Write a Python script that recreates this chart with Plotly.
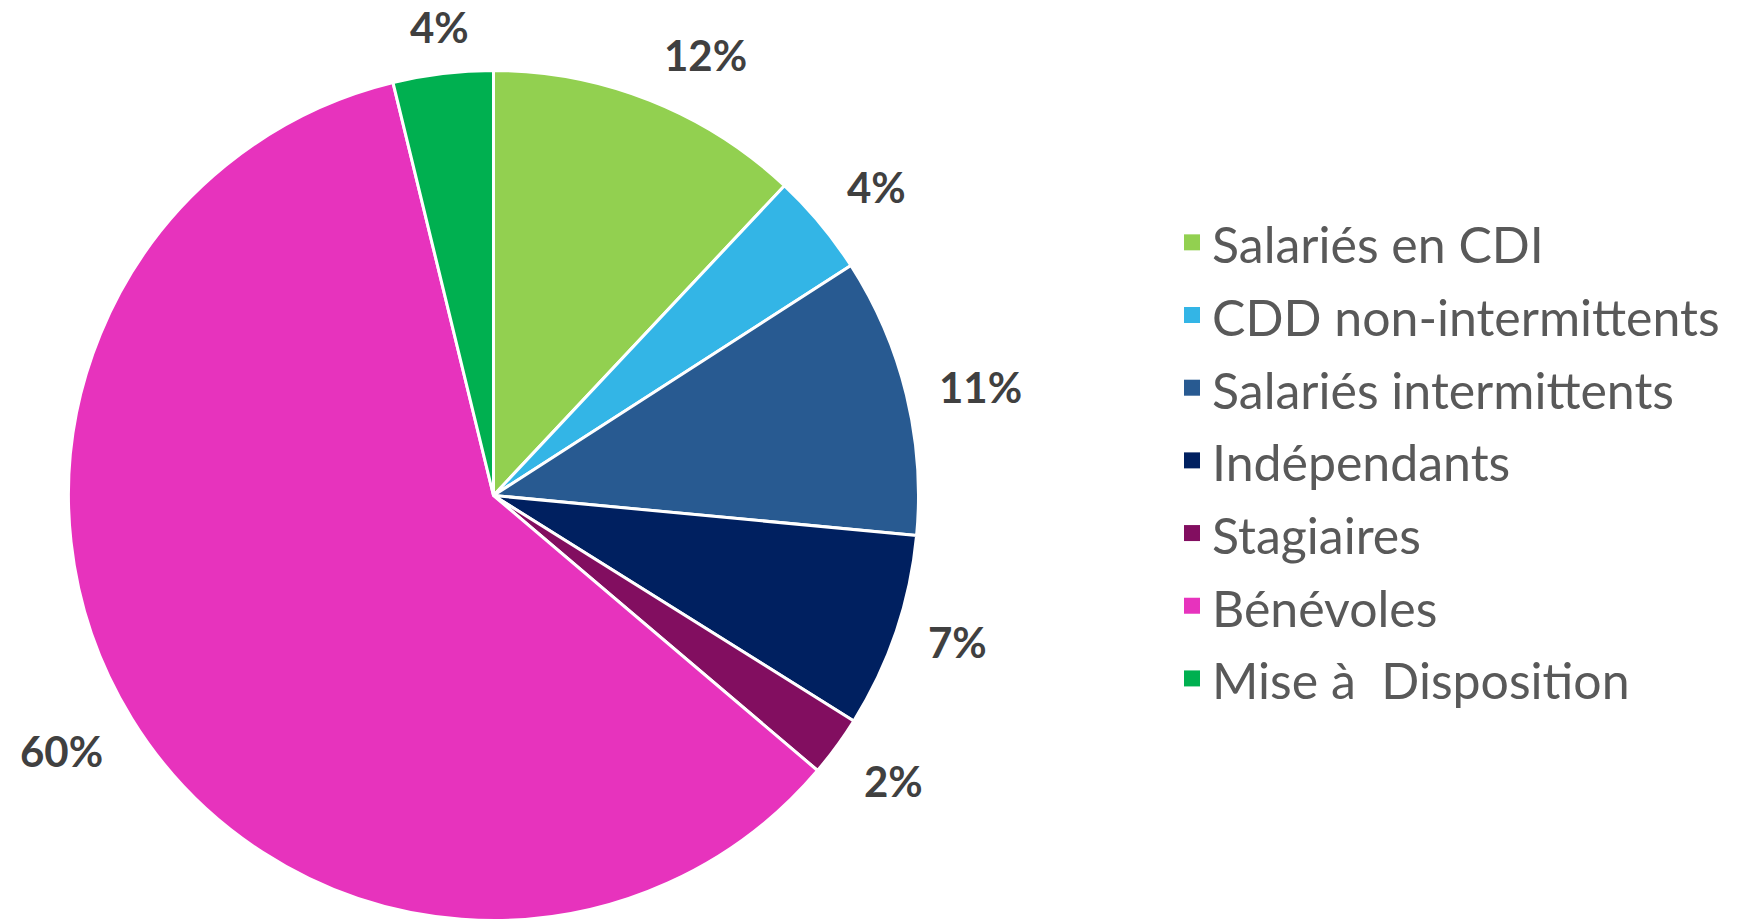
import math
import plotly.graph_objects as go

# ---- data ----
categories = ["Salariés en CDI", "CDD non-intermittents", "Salariés intermittents",
              "Indépendants", "Stagiaires", "Bénévoles", "Mise à  Disposition"]
shares = [12.0, 3.9, 10.6, 7.4, 2.3, 60.0, 3.8]
colors = ["#92D050", "#33B5E6", "#285A91", "#002060", "#820E60", "#E733BD", "#00B050"]

# ---- layout geometry (pixels) ----
W, H = 1760, 921
CX, CY, R = 493.5, 495.5, 425.0
LABEL_FONT = 42
LEGEND_TEXT = 50

dom_x = [(CX - R) / W, (CX + R) / W]
dom_y = [(H - CY - R) / H, (H - CY + R) / H]

total = sum(shares)
fig = go.Figure()
fig.add_trace(go.Pie(
    labels=categories,
    values=shares,
    sort=False,
    direction="clockwise",
    rotation=0,
    marker=dict(colors=colors, line=dict(color="white", width=3)),
    textinfo="none",
    hoverinfo="label+percent",
    domain=dict(x=dom_x, y=dom_y),
    showlegend=False,
))

# legend entries (square swatches)
for name, col in zip(categories, colors):
    fig.add_trace(go.Scatter(
        x=[None], y=[None], mode="markers",
        marker=dict(symbol="square", size=20, color=col),
        name=f'<span style="font-size:{LEGEND_TEXT}px">{name}</span>',
        showlegend=True, hoverinfo="skip",
    ))

# percentage labels placed just outside each slice (outside-end style)
annotations = []
cum = 0.0
d = R * 1.075
boxh = LABEL_FONT * 1.3
pad = 11  # empty space between text box edge and glyphs
for v in shares:
    mid = (cum + v / 2) / total * 2 * math.pi
    cum += v
    s, c = math.sin(mid), math.cos(mid)
    px = CX + d * s
    py = CY - d * c
    xa = "left" if s > 0.35 else ("right" if s < -0.35 else "center")
    ya = "bottom" if c > 0.35 else ("top" if c < -0.35 else "middle")
    ys = -pad if ya == "bottom" else (pad if ya == "top" else 0)
    if ya == "bottom" and py - boxh + pad < 0:
        py, ya, ys = 0.0, "top", 0
    annotations.append(dict(
        x=px / W, y=1 - py / H, xref="paper", yref="paper",
        text=f"<b>{round(v / total * 100)}%</b>", showarrow=False,
        xanchor=xa, yanchor=ya, yshift=ys,
        font=dict(family="Lato, sans-serif", size=LABEL_FONT, color="#404040"),
    ))

fig.update_layout(
    width=W, height=H,
    margin=dict(l=0, r=0, t=0, b=0),
    paper_bgcolor="white", plot_bgcolor="white",
    xaxis=dict(visible=False), yaxis=dict(visible=False),
    showlegend=True,
    legend=dict(
        x=1172 / W, xanchor="left",
        y=1 - 201 / H, yanchor="top",
        font=dict(family="Lato, sans-serif", size=53.6, color="#595959"),
        bgcolor="rgba(0,0,0,0)",
        itemsizing="trace",
    ),
    annotations=annotations,
)

fig.write_html("out.html", config={"displayModeBar": False},
               post_script="document.body.style.margin='0';")
